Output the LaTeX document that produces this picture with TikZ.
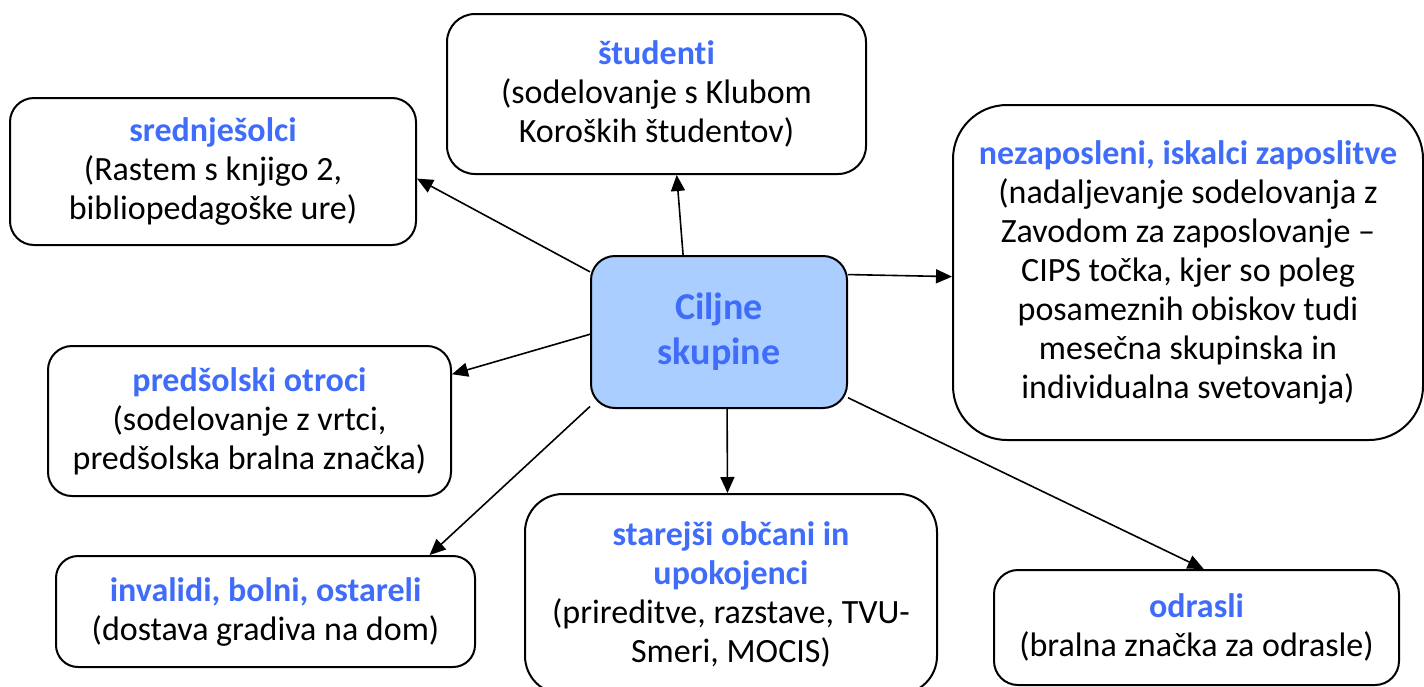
\documentclass[tikz,border=0pt]{standalone}
\usepackage{fontspec}
\setmainfont{Carlito}[Ligatures={TeX,NoCommon}]
\usetikzlibrary{arrows.meta}
\definecolor{naslov}{RGB}{64,108,250}
\definecolor{sredina}{RGB}{170,206,255}
\tikzset{
	skupina/.style={draw,line width=1pt,rounded corners=12pt,align=center,inner sep=0pt,font=\fontsize{17}{19.5}\selectfont},
	puscica/.style={line width=0.8pt,-{Triangle[length=8pt,width=7pt]}}
}
\newcommand{\naslov}[1]{\textbf{\color{naslov}#1}}
\begin{document}
\begin{tikzpicture}[x=0.5pt,y=-0.5pt]
		\useasboundingbox (0,0) rectangle (1424,686);
		%Center
		\node[skupina,fill=sredina,minimum width=128pt,minimum height=76pt,font=\fontsize{19}{22.5}\selectfont] (cil) at (719,332) {\naslov{Ciljne}\\\naslov{skupine}};
		%Boxes
		\node[skupina,minimum width=203pt,minimum height=73.5pt] (sred) at (213,171.5) {\naslov{srednješolci}\\(Rastem s knjigo 2,\\bibliopedagoške ure)};
		\node[skupina,rounded corners=14pt,minimum width=209.5pt,minimum height=80pt] (stud) at (656.5,94) {\naslov{študenti}\\(sodelovanje s Klubom\\Koroških študentov)};
		\node[skupina,rounded corners=27pt,minimum width=235pt,minimum height=167.5pt] (nez) at (1188,272.5) {\naslov{nezaposleni, iskalci zaposlitve}\\(nadaljevanje sodelovanja z\\Zavodom za zaposlovanje –\\CIPS točka, kjer so poleg\\posameznih obiskov tudi\\mesečna skupinska in\\individualna svetovanja)};
		\node[skupina,minimum width=201.5pt,minimum height=75pt] (pred) at (249.5,421) {\naslov{predšolski otroci}\\(sodelovanje z vrtci,\\predšolska bralna značka)};
		\node[skupina,rounded corners=11pt,minimum width=209.5pt,minimum height=55.5pt] (inv) at (265.5,611.5) {\naslov{invalidi, bolni, ostareli}\\(dostava gradiva na dom)};
		\node[skupina,rounded corners=19pt,minimum width=206pt,minimum height=100pt] (star) at (731,594) {\naslov{starejši občani in}\\\naslov{upokojenci}\\(prireditve, razstave, TVU-\\Smeri, MOCIS)};
		\node[skupina,minimum width=202.5pt,minimum height=57.5pt] (odr) at (1196.5,627.5) {\naslov{odrasli}\\(bralna značka za odrasle)};
		%Arrows
		\draw[puscica] (cil.155) -- (sred.358);
		\draw[puscica] (cil.115) -- (stud.284);
		\draw[puscica] (cil.24) -- (nez.181);
		\draw[puscica] (cil.181) -- (pred.13);
		\draw[puscica] (cil.210) -- (inv.19);
		\draw[puscica] (cil.276) -- (star.92);
		\draw[puscica] (cil.333) -- (odr.83);
		\end{tikzpicture}
\end{document}
